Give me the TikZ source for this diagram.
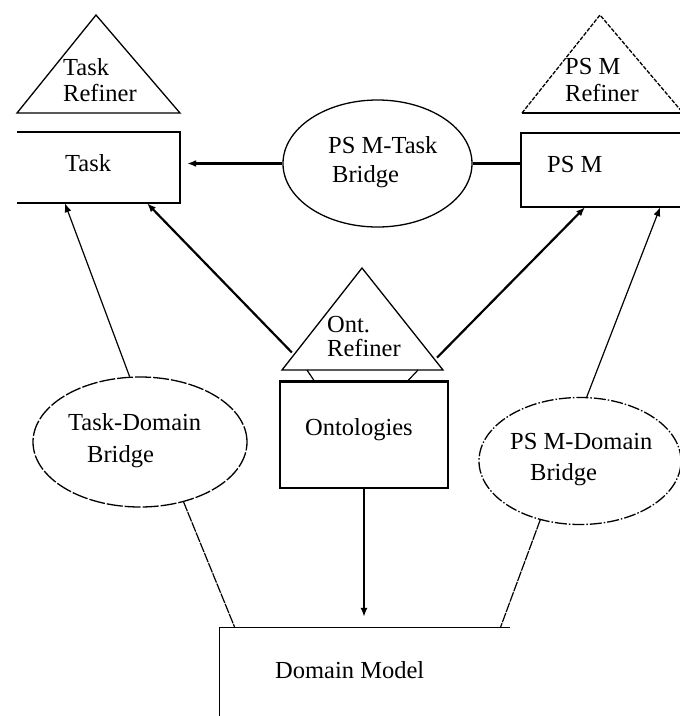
\documentclass[tikz,border=0pt]{standalone}
\usepackage{fontspec}
\setmainfont{Liberation Serif}
\usetikzlibrary{arrows.meta,shapes.geometric,calc}

\begin{document}
\begin{tikzpicture}[x=1pt,y=-1pt,
  txt/.style={font=\fontsize{24.5}{28}\selectfont, inner sep=0pt, anchor=west},
  boxshape/.style={rectangle, draw=none, inner sep=0pt},
  boxline/.style={line width=1.7pt},
  bridge/.style={ellipse, draw, inner sep=0pt, line width=1.3pt},
  heavy/.style={line width=2.2pt},
  light/.style={line width=1.2pt},
  tip/.style={-{Latex[length=9pt,width=7pt]}},
  refiner/.style={line width=1.3pt, line join=miter}
]
\useasboundingbox (0,0) rectangle (680,716);

% ---- refiner triangles ----
\coordinate (taskA) at (96,15);
\coordinate (taskL) at (17,113);
\coordinate (taskR) at (180,113);
\draw[refiner] (taskL) -- (taskA) -- (taskR) -- cycle;

\coordinate (psmA) at (600,15);
\coordinate (psmL) at (522,113);
\coordinate (psmR) at (683,113);
\draw[refiner, dash pattern=on 4pt off 1.5pt] (psmL) -- (psmA) -- (psmR);
\draw[refiner] (psmL) -- (psmR);

\coordinate (ontA) at (362,268);
\coordinate (ontL) at (282,370);
\coordinate (ontR) at (443,370);
\draw[refiner] (ontL) -- (ontA) -- (ontR) -- cycle;

% ---- boxes ----
\node[boxshape, minimum width=163pt, minimum height=71pt] (task) at (98.5,167.5) {};
\draw[boxline] (task.north west) -- (task.north east) -- (task.south east) -- (task.south west);

\node[boxshape, minimum width=179pt, minimum height=74pt] (psm) at (610.5,170) {};
\draw[boxline] (psm.north east) -- (psm.north west) -- (psm.south west) -- (psm.south east);

\node[boxshape, draw, line width=1.5pt, minimum width=168pt, minimum height=106pt] (ont) at (364,435) {};
\draw[line width=2.5pt] (ont.north west) -- (ont.north east);

\node[boxshape, minimum width=290pt, minimum height=120pt] (dom) at (365,688) {};
\draw[light] (dom.south west) -- (dom.north west) -- (dom.north east);

% ---- bridges ----
\node[bridge, minimum width=189pt, minimum height=127pt] (ptb) at (377.5,163.5) {};
\node[bridge, dash pattern=on 16pt off 2pt, minimum width=214pt, minimum height=130pt] (tdb) at (140,442) {};
\node[bridge, dash pattern=on 12pt off 2pt on 1.5pt off 2pt, minimum width=202pt, minimum height=127pt] (pdb) at (580,461) {};

% ---- labels ----
\node[txt] (tTaskRef1) at (63,67) {Task};
\node[txt] (tTaskRef2) at (63,93) {Refiner};
\node[txt] (tPsmRef1) at (565,67) {PS M};
\node[txt] (tPsmRef2) at (565,93) {Refiner};
\node[txt] (tTask) at (65,163) {Task};
\node[txt] (tPsm) at (547,165) {PS M};
\node[txt] (tPtb1) at (328,145) {PS M-Task};
\node[txt] (tPtb2) at (332,177) {Bridge};
\node[txt] (tOnt1) at (327,325) {Ont.};
\node[txt] (tOnt2) at (327,348) {Refiner};
\node[txt] (tOnt) at (305,430) {Ontologies};
\node[txt] (tTdb1) at (68,422) {Task-Domain};
\node[txt] (tTdb2) at (87,457) {Bridge};
\node[txt] (tPdb1) at (510,442) {PS M-Domain};
\node[txt] (tPdb2) at (530,475) {Bridge};
\node[txt] (tDom) at (275,670) {Domain Model};

% ---- connectors ----
\draw[heavy, tip, shorten >=7pt] (ptb.west) -- (ptb.west -| task.east);
\draw[heavy] (ptb.east) -- (ptb.east -| psm.west);

\draw[heavy, tip, shorten <=3pt] ($(ontL)!0.15!(ontA)$) -- ($(task.south west)!0.797!(task.south east)$);
\draw[heavy, tip, shorten <=3pt] ($(ontR)!0.10!(ontA)$) -- ($(psm.south west)!0.358!(psm.south east)$);

\draw[light] ($(ontL)!0.155!(ontR)$) -- ($(ont.north west)!0.208!(ont.north east)$);
\draw[light] ($(ontL)!0.845!(ontR)$) -- ($(ont.north west)!0.756!(ont.north east)$);

\draw[light, tip] (tdb.99) -- ($(task.south west)!0.294!(task.south east)$);
\draw[light, dash pattern=on 10pt off 1pt] (tdb.-54) -- ($(dom.north west)!0.052!(dom.north east)$);

\draw[light, tip] (pdb.84) -- ($(psm.south west)!0.777!(psm.south east)$);
\draw[light, dash pattern=on 10pt off 1pt] (pdb.-124) -- ($(dom.north west)!0.966!(dom.north east)$);

\draw[line width=1.5pt, tip, shorten >=11pt] (ont.south) -- (ont.south |- dom.north);
\end{tikzpicture}
\end{document}
